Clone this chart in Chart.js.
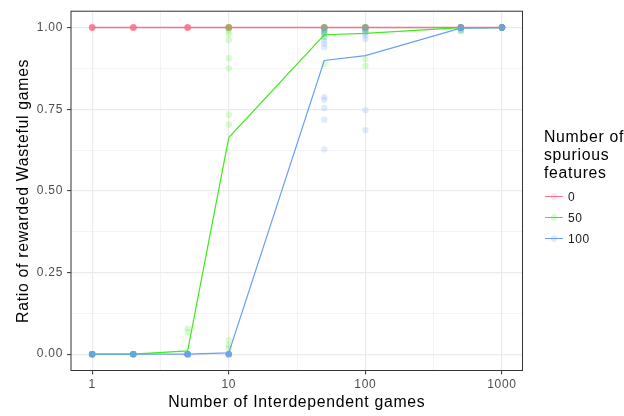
<!DOCTYPE html>
<html>
<head>
<meta charset="utf-8">
<script src="https://cdn.jsdelivr.net/npm/chart.js@4.4.1/dist/chart.umd.min.js"></script>
<style>
  html, body { margin: 0; padding: 0; background: #fff; }
  #wrap { position: relative; width: 624px; height: 416px; overflow: hidden; font-family: "Liberation Sans", Arial, sans-serif; }
  #chart { position: absolute; left: 0; top: 0; }
  .ltitle { position: absolute; left: 544px; top: 128px; width: 90px; white-space: nowrap; font-size: 15.8px; line-height: 18px; letter-spacing: 0.7px; color: #000; }
  .item { position: absolute; left: 545px; height: 20px; width: 75px; }
  .item .line { position: absolute; left: 0; top: 9.5px; width: 18px; height: 1.3px; }
  .item .dot { position: absolute; left: 5.8px; top: 6.8px; width: 6.4px; height: 6.4px; border-radius: 50%; opacity: 0.2; }
  .item .lab { position: absolute; left: 23px; top: 2px; font-size: 12px; line-height: 16px; letter-spacing: 0.6px; color: #1a1a1a; }
</style>
</head>
<body>
<div id="wrap">
  <canvas id="chart" width="624" height="416"></canvas>
  <div class="ltitle">Number of<br>spurious<br>features</div>
  <div id="legend"></div>
</div>
<script>
// x categories (log axis) and series
const X_VALUES = [1, 2, 5, 10, 50, 100, 500, 1000];
const SERIES = ['0', '50', '100'];

// mean ratio per x (the lines)
const MEAN_0   = [1, 1, 1, 1, 1, 1, 1, 1];
const MEAN_50  = [0, 0, 0.01, 0.663, 0.978, 0.982, 1, 1];
const MEAN_100 = [0, 0, 0, 0.004, 0.899, 0.914, 0.998, 1];

// individual runs per x (the faded dots)
const RUNS_0 = [
  [1,1,1,1,1,1,1,1,1,1], [1,1,1,1,1,1,1,1,1,1], [1,1,1,1,1,1,1,1,1,1], [1,1,1,1,1,1,1,1,1,1],
  [1,1,1,1,1,1,1,1,1,1], [1,1,1,1,1,1,1,1,1,1], [1,1,1,1,1,1,1,1,1,1], [1,1,1,1,1,1,1,1,1,1]
];
const RUNS_50 = [
  [0,0,0,0,0,0,0,0,0,0],
  [0,0,0,0,0,0,0,0,0,0],
  [0,0,0,0,0,0,0,0,0.068,0.079],
  [1,1,1,0.99,0.98,0.962,0.906,0.875,0.733,0.703,0.043,0.027,0.018,0],
  [1,1,1,1,0.995,0.99,0.985,0.98,0.97,0.888],
  [1,1,1,1,0.995,0.99,0.985,0.904,0.883],
  [1,1,1,1,1,1,1,1,0.99,0.99],
  [1,1,1,1,1,1,1,1,1,1]
];
const RUNS_100 = [
  [0,0,0,0,0,0,0,0,0,0],
  [0,0,0,0,0,0,0,0,0,0],
  [0,0,0,0,0,0,0,0,0,0],
  [0,0,0,0,0,0,0,0,0,0],
  [1,0.995,0.99,0.985,0.98,0.97,0.96,0.95,0.94,0.787,0.779,0.754,0.718,0.627],
  [1,1,0.995,0.99,0.985,0.975,0.965,0.747,0.686],
  [1,1,1,1,1,1,1,1,0.995,0.99],
  [1,1,1,1,1,1,1,1,1,1]
];

// axis ticks
const X_MAJOR = [1, 10, 100, 1000];
const X_MINOR = [3.162, 31.62, 316.2];
const Y_MAJOR = [0, 0.25, 0.5, 0.75, 1];
const Y_MINOR = [0.125, 0.375, 0.625, 0.875];

const COLORS = ['#F8718A', '#3DEB1A', '#6A9DF8'];
const MEANS = [MEAN_0, MEAN_50, MEAN_100];
const RUNS = [RUNS_0, RUNS_50, RUNS_100];

function hexA(hex, a) {
  const n = parseInt(hex.slice(1), 16);
  return 'rgba(' + (n >> 16) + ',' + ((n >> 8) & 255) + ',' + (n & 255) + ',' + a + ')';
}

// datasets: index 0 is drawn on top, so blue first, lines before dots
const lineSets = [2, 1, 0].map(i => ({
  label: SERIES[i],
  data: X_VALUES.map((x, j) => ({x: x, y: MEANS[i][j]})),
  showLine: true,
  borderColor: COLORS[i],
  borderWidth: i === 0 ? 1.6 : 1.2,
  pointRadius: 0,
  fill: false
}));
const dotSets = [2, 1, 0].map(i => ({
  label: SERIES[i] + ' runs',
  data: X_VALUES.flatMap((x, j) => RUNS[i][j].map(v => ({x: x, y: v}))),
  showLine: false,
  pointRadius: 3.2,
  pointBorderWidth: 0,
  pointBackgroundColor: hexA(COLORS[i], 0.2),
  pointBorderColor: 'rgba(0,0,0,0)'
}));

// wider text spacing, like the hinted text of the original
function spacing(chart) { chart.ctx.letterSpacing = '0.7px'; }

const frame = {
  id: 'frame',
  beforeUpdate: spacing,
  beforeLayout: spacing,
  beforeDraw: spacing,
  afterDraw(chart) {
    const a = chart.chartArea, c = chart.ctx;
    c.save();
    c.strokeStyle = '#333333';
    c.lineWidth = 1;
    c.strokeRect(a.left, a.top, a.right - a.left, a.bottom - a.top);
    c.restore();
  }
};

const tickFont = {family: '"Liberation Sans", Arial, sans-serif', size: 12};
const titleFont = {family: '"Liberation Sans", Arial, sans-serif', size: 15.8};

new Chart(document.getElementById('chart').getContext('2d'), {
  type: 'scatter',
  data: {datasets: lineSets.concat(dotSets)},
  options: {
    responsive: false,
    animation: false,
    layout: {padding: {top: 8.5, right: 101.5, left: 0, bottom: 0}},
    plugins: {legend: {display: false}, tooltip: {enabled: false}},
    scales: {
      x: {
        type: 'logarithmic',
        min: 0.708,
        max: 1413,
        afterBuildTicks: s => { s.ticks = X_MAJOR.concat(X_MINOR).sort((a, b) => a - b).map(v => ({value: v})); },
        afterFit: s => { s.height = 45.5; },
        border: {display: false},
        grid: {
          color: '#EBEBEB',
          lineWidth: c => X_MAJOR.includes(c.tick.value) ? 1.2 : 0.6,
          drawTicks: true,
          tickLength: 4,
          tickWidth: 1,
          tickColor: c => X_MAJOR.includes(c.tick.value) ? '#333333' : 'rgba(0,0,0,0)'
        },
        ticks: {
          autoSkip: false,
          maxRotation: 0,
          padding: 3,
          color: '#4D4D4D',
          font: tickFont,
          callback: v => X_MAJOR.includes(v) ? String(v) : ''
        },
        title: {display: true, text: 'Number of Interdependent games', color: '#000', font: titleFont, padding: {top: 0, bottom: 3.5}}
      },
      y: {
        min: -0.05,
        max: 1.05,
        afterBuildTicks: s => { s.ticks = Y_MAJOR.concat(Y_MINOR).sort((a, b) => a - b).map(v => ({value: v})); },
        afterFit: s => { s.width = 71; },
        border: {display: false},
        grid: {
          color: '#EBEBEB',
          lineWidth: c => Y_MAJOR.includes(c.tick.value) ? 1.2 : 0.6,
          drawTicks: true,
          tickLength: 4,
          tickWidth: 1,
          tickColor: c => Y_MAJOR.includes(c.tick.value) ? '#333333' : 'rgba(0,0,0,0)'
        },
        ticks: {
          autoSkip: false,
          padding: 4,
          color: '#4D4D4D',
          font: tickFont,
          callback: v => Y_MAJOR.includes(v) ? v.toFixed(2) : ''
        },
        title: {display: true, text: 'Ratio of rewarded Wasteful games', color: '#000', font: titleFont, padding: {top: 14, bottom: 0}}
      }
    }
  },
  plugins: [frame]
});

// legend
const legend = document.getElementById('legend');
SERIES.forEach((s, i) => {
  const it = document.createElement('div');
  it.className = 'item';
  it.style.top = (186.5 + i * 21) + 'px';
  it.innerHTML = '<div class="line" style="background:' + COLORS[i] + '"></div>' +
    '<div class="dot" style="background:' + COLORS[i] + '"></div>' +
    '<div class="lab">' + s + '</div>';
  legend.appendChild(it);
});
</script>
</body>
</html>
